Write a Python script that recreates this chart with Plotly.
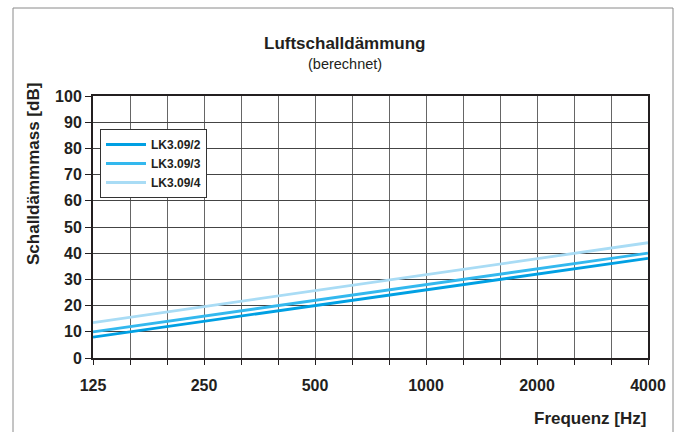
import plotly.graph_objects as go

freq = [125, 250, 500, 1000, 2000, 4000]
lk2 = [8.0, 14.0, 20.0, 26.0, 32.0, 38.0]
lk3 = [10.0, 16.0, 22.0, 28.0, 34.0, 40.0]
lk4 = [13.5, 19.6, 25.7, 31.8, 37.9, 44.0]
series_names = ["LK3.09/2", "LK3.09/3", "LK3.09/4"]
series_colors = ["#00a0e3", "#33b8ee", "#a9dcf5"]
xtick_vals = [125, 250, 500, 1000, 2000, 4000]
xtick_text = ["125", "250", "500", "1000", "2000", "4000"]
third_octaves = [125 * 2 ** (k / 3) for k in range(16)]

FONT = "Liberation Sans, Arial, sans-serif"
INK = "#231f20"

fig = go.Figure()
for name, ys, col in zip(series_names, [lk2, lk3, lk4], series_colors):
    fig.add_trace(go.Scatter(x=freq, y=ys, mode="lines", name=name,
                             line=dict(color=col, width=2.8)))

L, R, T, B = 93, 32, 96, 74
W, H = 680, 432
pw = W - L - R
ph = H - T - B

def px(x):
    return (x - L) / pw

def py(y):
    return (H - B - y) / ph

fig.update_layout(
    width=W, height=H,
    margin=dict(l=L, r=R, t=T, b=B),
    paper_bgcolor="white", plot_bgcolor="white",
    font=dict(family=FONT, color=INK),
    showlegend=True,
    legend=dict(x=px(100), y=py(129), xanchor="left", yanchor="top",
                bgcolor="white", bordercolor="#333333", borderwidth=1,
                font=dict(size=12, family=FONT, color=INK, weight="bold"),
                itemwidth=40, tracegroupgap=0),
    xaxis=dict(type="log", range=[2.0969100130, 3.6020599913],
               tickmode="array", tickvals=xtick_vals, ticktext=xtick_text,
               ticks="outside", ticklen=5, tickcolor=INK, tickwidth=1,
               tickfont=dict(size=16, family=FONT, color=INK, weight="bold"),
               ticklabelstandoff=7,
               showgrid=True, gridcolor="#666666", gridwidth=1,
               showline=True, linecolor=INK, linewidth=2, mirror=True,
               minor=dict(tickmode="array", tickvals=third_octaves,
                          ticks="outside", ticklen=5, tickcolor=INK,
                          showgrid=True, gridcolor="#666666", gridwidth=1),
               zeroline=False),
    yaxis=dict(range=[0, 100], tickmode="array",
               tickvals=list(range(0, 101, 10)),
               ticks="outside", ticklen=6, tickcolor=INK, tickwidth=1,
               tickfont=dict(size=16, family=FONT, color=INK, weight="bold"),
               showgrid=True, gridcolor="#444444", gridwidth=1,
               showline=True, linecolor=INK, linewidth=2, mirror=True,
               zeroline=False),
)

fig.add_shape(type="rect", xref="paper", yref="paper",
              x0=px(13), x1=px(673), y0=py(445), y1=py(8),
              line=dict(color="#8a8a8a", width=1), layer="below")

fig.add_annotation(text="<b>Luftschalldämmung</b>", xref="paper", yref="paper",
                   x=px(344.5), y=py(43.5), xanchor="center", yanchor="middle",
                   showarrow=False, font=dict(size=17, family=FONT, color=INK))
fig.add_annotation(text="(berechnet)", xref="paper", yref="paper",
                   x=px(344.5), y=py(64), xanchor="center", yanchor="middle",
                   showarrow=False, font=dict(size=14.5, family=FONT, color=INK))
fig.add_annotation(text="<b>Schalldämmmass [dB]</b>", xref="paper", yref="paper",
                   x=px(33), y=py(174), xanchor="center", yanchor="middle",
                   showarrow=False, textangle=-90,
                   font=dict(size=17, family=FONT, color=INK))
fig.add_annotation(text="<b>Frequenz [Hz]</b>", xref="paper", yref="paper",
                   x=px(648), y=py(418), xanchor="right", yanchor="middle",
                   showarrow=False, font=dict(size=17, family=FONT, color=INK))

fig.write_html("out.html", config={"displayModeBar": False},
               post_script="document.body.style.margin='0px';")
